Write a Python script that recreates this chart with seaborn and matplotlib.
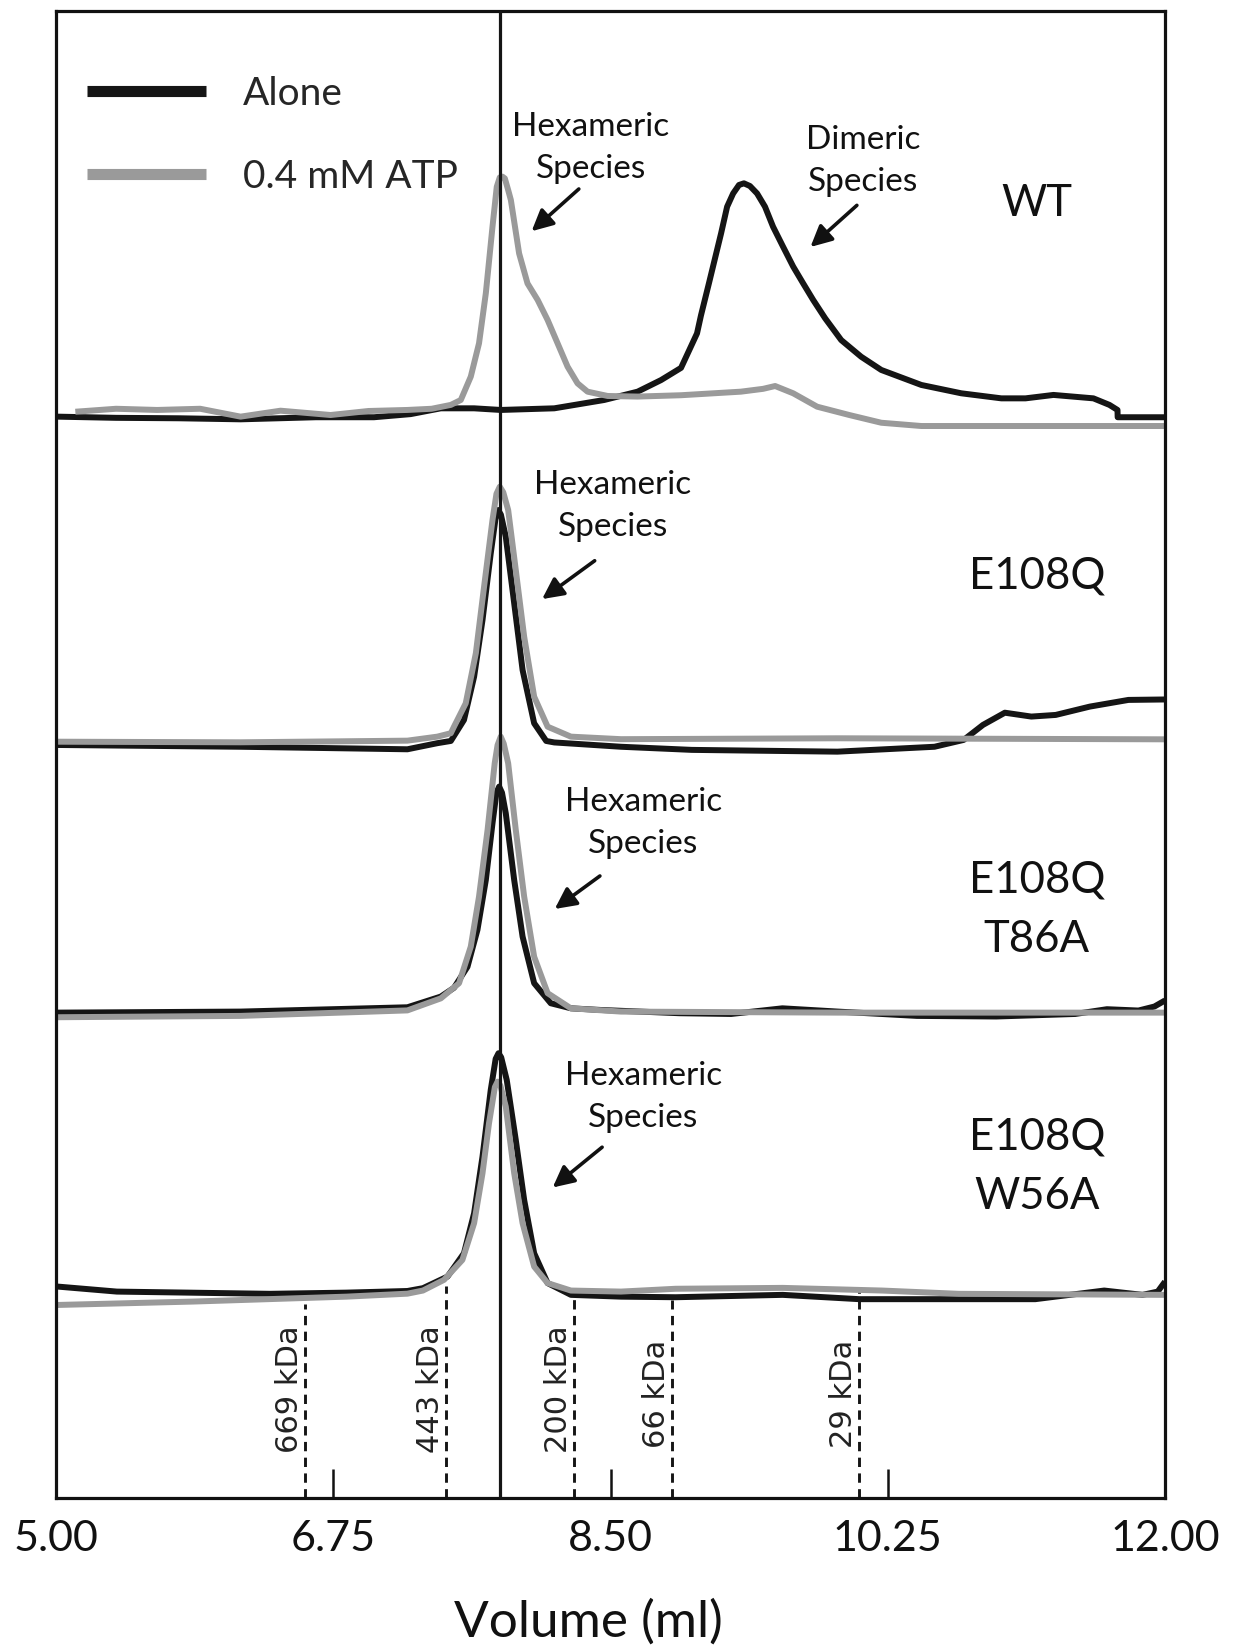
import matplotlib
matplotlib.use("Agg")
import matplotlib.pyplot as plt
from matplotlib.lines import Line2D
import pandas as pd
import seaborn as sns

# ---------------- data (elution volume in ml, stacked absorbance in arbitrary units) ----------------
panels = ["WT", "E108Q", "E108Q\nT86A", "E108Q\nW56A"]
conditions = ["Alone", "0.4 mM ATP"]

wt_alone_vol = [5.007, 5.379, 5.777, 6.165, 6.640, 7.007, 7.238, 7.429, 7.639, 7.807, 8.145, 8.460,
                8.671, 8.819, 8.945, 9.046, 9.071, 9.121, 9.198, 9.236, 9.274, 9.311, 9.342, 9.380,
                9.425, 9.475, 9.526, 9.589, 9.653, 9.716, 9.779, 9.855, 9.956, 10.082, 10.209, 10.462,
                10.714, 10.967, 11.119, 11.296, 11.548, 11.649, 11.700, 11.701, 12.000]
wt_alone_abs = [72.69, 72.61, 72.58, 72.51, 72.65, 72.65, 72.86, 73.25, 73.25, 73.14, 73.25, 73.81,
                74.37, 75.15, 75.97, 78.29, 79.50, 81.65, 85.02, 86.81, 87.70, 88.27, 88.38, 88.20,
                87.70, 86.81, 85.46, 84.12, 82.78, 81.65, 80.54, 79.30, 77.84, 76.72, 75.83, 74.82,
                74.26, 73.92, 73.92, 74.15, 73.92, 73.48, 73.14, 72.65, 72.65]

wt_atp_vol = [5.122, 5.379, 5.638, 5.910, 6.165, 6.417, 6.733, 6.972, 7.218, 7.371, 7.492, 7.555,
              7.618, 7.670, 7.713, 7.755, 7.782, 7.801, 7.818, 7.833, 7.854, 7.871, 7.923, 7.976,
              8.040, 8.103, 8.166, 8.229, 8.292, 8.355, 8.482, 8.671, 8.945, 9.323, 9.463, 9.539,
              9.653, 9.804, 10.007, 10.209, 10.462, 12.000]
wt_atp_abs = [73.02, 73.22, 73.14, 73.22, 72.69, 73.09, 72.80, 73.07, 73.14, 73.22, 73.48, 73.81,
              75.38, 77.62, 80.99, 85.46, 88.15, 88.78, 88.83, 88.71, 87.93, 87.26, 83.67, 81.65,
              80.54, 79.19, 77.62, 76.05, 74.93, 74.37, 74.08, 74.04, 74.13, 74.37, 74.56, 74.75,
              74.26, 73.36, 72.80, 72.28, 72.06, 72.06]

e108q_alone_vol = [5.007, 6.165, 7.218, 7.407, 7.492, 7.575, 7.639, 7.692, 7.744, 7.775, 7.791, 7.808,
                   7.839, 7.892, 7.945, 8.018, 8.094, 8.145, 8.566, 9.013, 9.932, 10.545, 10.729,
                   10.851, 10.989, 11.156, 11.310, 11.525, 11.769, 12.000]
e108q_alone_abs = [50.61, 50.49, 50.32, 50.73, 50.88, 52.29, 55.20, 59.01, 63.50, 65.90, 66.41, 66.10,
                   64.61, 60.14, 55.65, 52.07, 50.88, 50.78, 50.49, 50.28, 50.16, 50.49, 50.95,
                   51.96, 52.78, 52.52, 52.63, 53.19, 53.64, 53.67]

e108q_atp_vol = [5.007, 6.165, 7.218, 7.407, 7.492, 7.512, 7.586, 7.650, 7.702, 7.755, 7.780, 7.801,
                 7.823, 7.854, 7.902, 7.955, 8.018, 8.103, 8.250, 8.566, 9.932, 12.000]
e108q_atp_abs = [50.83, 50.79, 50.90, 51.17, 51.40, 51.84, 53.41, 56.78, 61.26, 65.74, 67.50, 67.98,
                 67.60, 66.41, 62.38, 57.89, 53.86, 51.84, 51.17, 51.00, 51.06, 50.99]

t86a_alone_vol = [5.007, 6.165, 7.218, 7.429, 7.512, 7.597, 7.660, 7.713, 7.755, 7.780, 7.797, 7.815,
                  7.839, 7.892, 7.945, 8.018, 8.123, 8.250, 8.436, 8.936, 9.261, 9.585, 9.935,
                  10.434, 10.934, 11.433, 11.633, 11.832, 11.933, 12.000]
t86a_alone_abs = [32.61, 32.68, 32.97, 33.69, 34.28, 35.69, 38.17, 41.53, 45.34, 47.40, 47.81, 47.40,
                  46.01, 41.53, 37.72, 34.59, 33.24, 32.90, 32.79, 32.57, 32.52, 32.90, 32.68,
                  32.39, 32.35, 32.52, 32.84, 32.75, 33.02, 33.43]

t86a_atp_vol = [5.007, 6.165, 7.218, 7.429, 7.544, 7.618, 7.670, 7.724, 7.769, 7.787, 7.807, 7.826,
                7.854, 7.902, 7.955, 8.018, 8.103, 8.250, 8.566, 9.934, 12.000]
t86a_atp_abs = [32.30, 32.39, 32.76, 33.57, 34.59, 37.05, 40.41, 44.90, 49.38, 50.60, 51.17, 50.70,
                49.38, 44.90, 40.41, 36.37, 33.92, 32.90, 32.68, 32.61, 32.61]

w56a_alone_vol = [5.007, 5.384, 6.350, 6.833, 7.218, 7.316, 7.471, 7.575, 7.639, 7.692, 7.744, 7.775,
                  7.793, 7.810, 7.845, 7.902, 7.955, 8.018, 8.103, 8.250, 8.566, 8.911, 9.587, 10.070,
                  11.181, 11.616, 11.858, 11.954, 12.000]
w56a_alone_abs = [14.19, 13.85, 13.70, 13.78, 13.89, 14.08, 14.86, 16.43, 19.12, 22.93, 27.41, 29.50,
                  29.88, 29.60, 28.08, 24.05, 20.01, 16.43, 14.42, 13.63, 13.51, 13.47, 13.63, 13.34,
                  13.34, 13.92, 13.63, 13.85, 14.52]

w56a_atp_vol = [5.007, 5.867, 6.833, 7.218, 7.316, 7.449, 7.565, 7.639, 7.692, 7.733, 7.770, 7.787,
                7.805, 7.839, 7.892, 7.945, 8.018, 8.103, 8.250, 8.566, 8.911, 9.587, 10.215, 10.698,
                12.000]
w56a_atp_abs = [12.95, 13.18, 13.51, 13.71, 13.92, 14.64, 15.98, 18.45, 21.81, 25.17, 27.60, 27.97,
                27.70, 26.29, 21.81, 18.45, 15.53, 14.42, 13.92, 13.85, 14.04, 14.10, 13.92, 13.70,
                13.63]

void_volume = 7.80
std_labels = ["669 kDa", "443 kDa", "200 kDa", "66 kDa", "29 kDa"]
std_volumes = [6.57, 7.46, 8.27, 8.89, 10.07]
std_tops = [13.0, 14.2, 13.5, 13.3, 13.9]
std_label_start = [3.0, 3.0, 3.0, 3.3, 3.3]

tick_values = [5.00, 6.75, 8.50, 10.25, 12.00]
tick_labels = ["5.00", "6.75", "8.50", "10.25", "12.00"]

# annotation anchors (volume, signal)
annot_texts = ["Hexameric\nSpecies", "Dimeric\nSpecies", "Hexameric\nSpecies", "Hexameric\nSpecies",
               "Hexameric\nSpecies"]
annot_text_pos = [(8.374, 90.78), (10.094, 89.89), (8.513, 66.68), (8.706, 45.34), (8.706, 26.96)]
annot_tail = [(8.300, 88.00), (10.055, 86.90), (8.400, 63.00), (8.433, 41.80), (8.447, 23.56)]
annot_head = [(8.002, 85.16), (9.762, 84.10), (8.068, 60.42), (8.148, 39.58), (8.135, 20.85)]
panel_label_pos = [(11.19, 87.0), (11.19, 61.98), (11.19, 39.54), (11.19, 22.26)]

# ---------------- assemble long table ----------------
series = [
    ("WT", "Alone", wt_alone_vol, wt_alone_abs),
    ("WT", "0.4 mM ATP", wt_atp_vol, wt_atp_abs),
    ("E108Q", "Alone", e108q_alone_vol, e108q_alone_abs),
    ("E108Q", "0.4 mM ATP", e108q_atp_vol, e108q_atp_abs),
    ("E108Q\nT86A", "Alone", t86a_alone_vol, t86a_alone_abs),
    ("E108Q\nT86A", "0.4 mM ATP", t86a_atp_vol, t86a_atp_abs),
    ("E108Q\nW56A", "Alone", w56a_alone_vol, w56a_alone_abs),
    ("E108Q\nW56A", "0.4 mM ATP", w56a_atp_vol, w56a_atp_abs),
]
frames = []
for panel, cond, vol, ab in series:
    frames.append(pd.DataFrame({"volume": vol, "signal": ab, "condition": cond,
                                "trace": panel + "|" + cond}))
df = pd.concat(frames, ignore_index=True)

# ---------------- style ----------------
sns.set_theme(style="white")
plt.rcParams["font.family"] = ["Lato", "DejaVu Sans"]
plt.rcParams["axes.edgecolor"] = "#111111"

BLACK = "#151515"
GREY = "#9a9a9a"
palette = {"Alone": BLACK, "0.4 mM ATP": GREY}

fig = plt.figure(figsize=(12.39, 16.48), dpi=100)
ax = fig.add_axes([0.0452, 0.0913, 0.8951, 0.9023])

sns.lineplot(data=df, x="volume", y="signal", hue="condition", hue_order=conditions,
             units="trace", estimator=None, sort=False, palette=palette, linewidth=4.3,
             legend=False, ax=ax)
for ln in ax.lines:
    ln.set_solid_joinstyle("round")
    ln.set_solid_capstyle("butt")

# void volume marker and standards
ax.axvline(void_volume, color=BLACK, lw=2.3, zorder=5)
for v, top, lab, ys in zip(std_volumes, std_tops, std_labels, std_label_start):
    ax.vlines(v, 0, top, colors=BLACK, linestyles=(0, (3.2, 2.2)), lw=2.1, zorder=1)
    ax.text(v - 0.045, ys, lab, rotation=90, rotation_mode="anchor", ha="left", va="baseline",
            fontsize=22, family="DejaVu Sans", color="#222222")

# annotations
for txt, tp, tail, head in zip(annot_texts, annot_text_pos, annot_tail, annot_head):
    ax.text(tp[0], tp[1], txt, ha="center", va="center", fontsize=24, linespacing=1.5,
            color="#111111")
    ax.annotate("", xy=head, xytext=tail,
                arrowprops=dict(arrowstyle="-|>", lw=2.6, color="#111111", mutation_scale=32,
                                shrinkA=0, shrinkB=0))

for lab, pos in zip(panels, panel_label_pos):
    ax.text(pos[0], pos[1], lab, ha="center", va="center", fontsize=31.5, linespacing=1.55,
            color="#111111")

# legend
handles = [Line2D([], [], color=BLACK, lw=8, solid_capstyle="butt"),
           Line2D([], [], color=GREY, lw=8, solid_capstyle="butt")]
ax.legend(handles, conditions, loc="upper left", bbox_to_anchor=(0.028, 0.956), frameon=False,
          fontsize=28, handlelength=3.05, handletextpad=0.95, labelspacing=1.2, borderpad=0,
          borderaxespad=0)

# axes
ax.set_xlim(5.0, 12.0)
ax.set_ylim(0, 100)
ax.set_xticks(tick_values)
ax.set_xticklabels(tick_labels)
ax.set_yticks([])
ax.tick_params(axis="x", bottom=True, direction="in", length=21, width=1.8, pad=16, labelsize=31,
               colors="#111111")
ax.set_xlabel("Volume (ml)", fontsize=37, labelpad=30, color="#111111")
ax.xaxis.label.set_x(0.48)
ax.set_ylabel("")
for s in ax.spines.values():
    s.set_visible(True)
    s.set_linewidth(2.3)
    s.set_color("#111111")

fig.savefig("out.png", dpi=100)
